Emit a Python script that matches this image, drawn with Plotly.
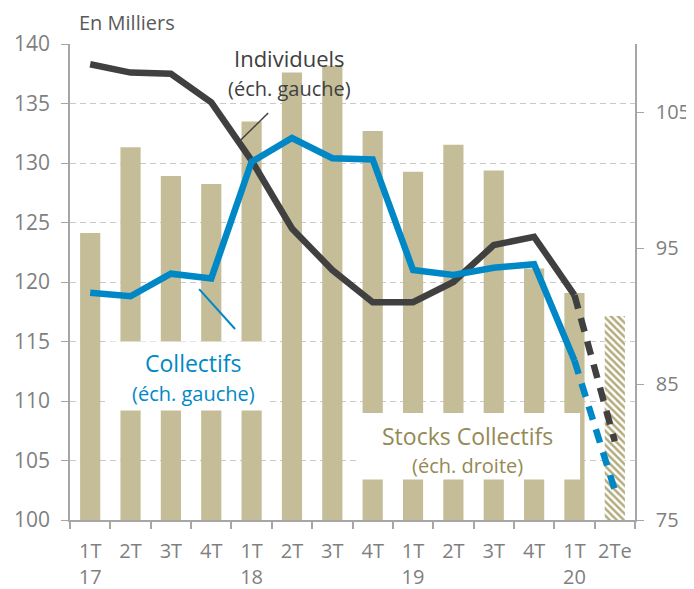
import plotly.graph_objects as go

# ---- data ----
quarters = ["1T<br>17", "2T", "3T", "4T", "1T<br>18", "2T", "3T", "4T",
            "1T<br>19", "2T", "3T", "4T", "1T<br>20", "2Te"]
stocks_collectifs = [96.1, 102.4, 100.3, 99.7, 104.3, 107.9, 108.4, 103.6,
                     100.6, 102.6, 100.7, 93.5, 91.7, 90.0]
individuels = [138.3, 137.6, 137.5, 135.1, 130.2, 124.5, 121.0, 118.3,
               118.3, 120.0, 123.1, 123.8, 118.9, 106.6]
collectifs = [119.1, 118.8, 120.7, 120.3, 130.1, 132.1, 130.4, 130.3,
              121.0, 120.6, 121.2, 121.5, 113.4, 102.5]
n_actual = 13  # last point (2Te) is an estimate

left_ticks = [100, 105, 110, 115, 120, 125, 130, 135, 140]
right_ticks = [75, 85, 95, 105]

FONT = "Open Sans"
TAN = "#C4BD97"
HATCH = "#B3AB7E"
BLUE = "#0088C6"
DARK = "#404040"
OLIVE = "#948A54"
GRAY = "#7F7F7F"
AXIS = "#A6A6A6"

x = list(range(len(quarters)))

fig = go.Figure()

# bars (right scale) with hatched estimate
pat_shapes = [""] * (len(x) - 1) + ["\\"]
fig.add_trace(go.Bar(
    x=x, y=stocks_collectifs, yaxis="y", width=0.5,
    marker=dict(color=TAN, line=dict(width=0),
                pattern=dict(shape=pat_shapes, fgcolor=HATCH, bgcolor="white",
                             fgopacity=1, size=5, solidity=0.5, fillmode="replace")),
    showlegend=False, hoverinfo="skip"))

# lines (left scale)
for vals, col in [(individuels, DARK), (collectifs, BLUE)]:
    fig.add_trace(go.Scatter(
        x=x[:n_actual], y=vals[:n_actual], yaxis="y2", mode="lines",
        line=dict(color=col, width=6.5), showlegend=False))
    fig.add_trace(go.Scatter(
        x=x[n_actual - 1:], y=vals[n_actual - 1:], yaxis="y2", mode="lines",
        line=dict(color=col, width=6.5, dash="14px,10px"), showlegend=False))

boundaries = [i - 0.5 for i in range(len(x) + 1)]

# page has an 8px body margin: figure is sized/offset to compensate
fig.update_layout(
    width=686, height=581,
    margin=dict(l=62, r=59, t=36, b=69, autoexpand=False),
    paper_bgcolor="white", plot_bgcolor="white",
    font=dict(family=FONT, size=20, color=GRAY),
    bargap=0.5,
    xaxis=dict(range=[-0.5, len(x) - 0.5], tickmode="array", tickvals=x,
               ticktext=quarters, ticks="", showgrid=False, zeroline=False,
               automargin=False, ticklabelstandoff=12,
               showline=True, linecolor=AXIS, linewidth=1.5,
               tickfont=dict(size=20, color=GRAY),
               minor=dict(tickmode="array", tickvals=boundaries, ticks="outside",
                          ticklen=7, tickcolor=AXIS, tickwidth=1.5, showgrid=False)),
    yaxis=dict(side="right", range=[75, 110], tickmode="array", tickvals=right_ticks,
               showgrid=False, zeroline=False, showline=True, linecolor=AXIS,
               automargin=False,
               linewidth=1.5, ticks="outside", ticklen=7, tickcolor=AXIS,
               tickfont=dict(size=20, color=GRAY), ticklabelstandoff=8),
    yaxis2=dict(overlaying="y", side="left", range=[100, 140], tickmode="array",
                tickvals=left_ticks, showgrid=True, gridcolor="#C9C9C9",
                automargin=False,
                griddash="6px,4px", gridwidth=1, zeroline=False, showline=True,
                linecolor=AXIS, linewidth=1.5, ticks="outside", ticklen=7,
                tickcolor=AXIS, tickfont=dict(size=21, color=GRAY),
                ticklabelstandoff=7),
)

# white label boxes over bars
fig.add_shape(type="rect", xref="x", yref="y2", x0=0.37, x1=4.45, y0=109.2, y1=115.0,
              fillcolor="white", line=dict(width=0), layer="above")
fig.add_shape(type="rect", xref="x", yref="y2", x0=6.59, x1=12.14, y0=103.4, y1=109.0,
              fillcolor="white", line=dict(width=0), layer="above")
# leader lines
fig.add_shape(type="line", xref="x", yref="y2", x0=4.41, y0=134.2, x1=3.66, y1=131.7,
              line=dict(color=DARK, width=1.5), layer="above")
fig.add_shape(type="line", xref="x", yref="y2", x0=2.70, y0=119.4, x1=3.59, y1=116.05,
              line=dict(color=BLUE, width=2), layer="above")

def ann(text, xv, yv, size, color):
    fig.add_annotation(text=text, x=xv, y=yv, xref="x", yref="y2", showarrow=False,
                       font=dict(family=FONT, size=size, color=color),
                       xanchor="center", yanchor="middle")

ann("Individuels", 4.93, 138.8, 22, DARK)
ann("(éch. gauche)", 4.95, 136.3, 20, DARK)
ann("Collectifs", 2.55, 113.2, 23, BLUE)
ann("(éch. gauche)", 2.55, 110.6, 20, BLUE)
ann("Stocks Collectifs", 9.34, 107.1, 23, OLIVE)
ann("(éch. droite)", 9.36, 104.6, 20, OLIVE)

fig.add_annotation(text="En Milliers", xref="paper", yref="paper", x=0.012, y=1.046,
                   xanchor="left", yanchor="middle", showarrow=False,
                   font=dict(family=FONT, size=20, color="#595959"))

fig.write_html("out.html")
